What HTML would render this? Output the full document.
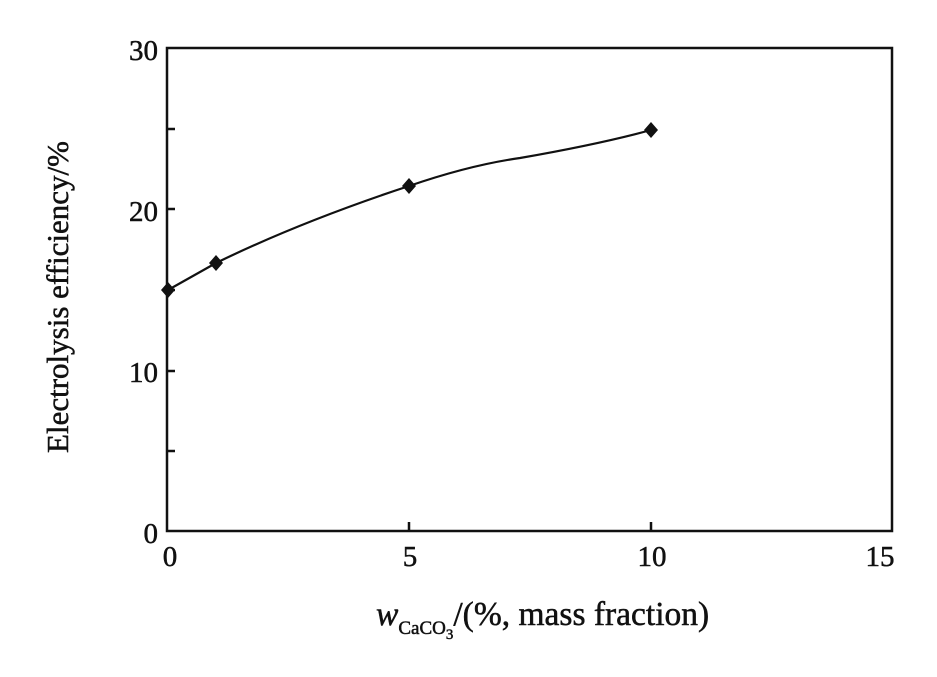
<!DOCTYPE html>
<html><head><meta charset="utf-8"><style>
html,body{margin:0;padding:0;background:#fff;width:937px;height:677px;overflow:hidden}
text{font-family:"Liberation Serif",serif;fill:#111;stroke:#111;stroke-width:0.5}
</style></head><body>
<svg width="937" height="677" viewBox="0 0 937 677" xmlns="http://www.w3.org/2000/svg">
<g stroke="#111" stroke-width="2.5" fill="none">
<rect x="167" y="48" width="725" height="483"/>
<path d="M167 129h8M167 209h8M167 290h8M167 371h8M167 451h8M409 531v-9M651 531v-9"/>
<path d="M168 290 L216 263 Q300 222 409 186 Q470 165 520 158 Q600 144 651 130" stroke-width="2.2"/>
</g>
<g fill="#111">
<path d="M168 282l7 8-7 8-7-8z"/>
<path d="M216 255l7 8-7 8-7-8z"/>
<path d="M409 178l7 8-7 8-7-8z"/>
<path d="M651 122l7 8-7 8-7-8z"/>
</g>
<g font-size="29" text-anchor="end">
<text x="158" y="60">30</text>
<text x="158" y="221">20</text>
<text x="158" y="382">10</text>
<text x="158" y="543">0</text>
</g>
<g font-size="29" text-anchor="middle">
<text x="170" y="566">0</text>
<text x="410" y="566">5</text>
<text x="652" y="566">10</text>
<text x="880" y="566">15</text>
</g>
<text x="68" y="297" font-size="31" text-anchor="middle" transform="rotate(-90 68 297)">Electrolysis efficiency/%</text>
<text x="376" y="625" font-size="33.5"><tspan font-style="italic">w</tspan><tspan font-size="19" dy="9">CaCO</tspan><tspan font-size="15" dy="5">3</tspan><tspan dy="-14">/(%, mass fraction)</tspan></text>
</svg>
</body></html>
